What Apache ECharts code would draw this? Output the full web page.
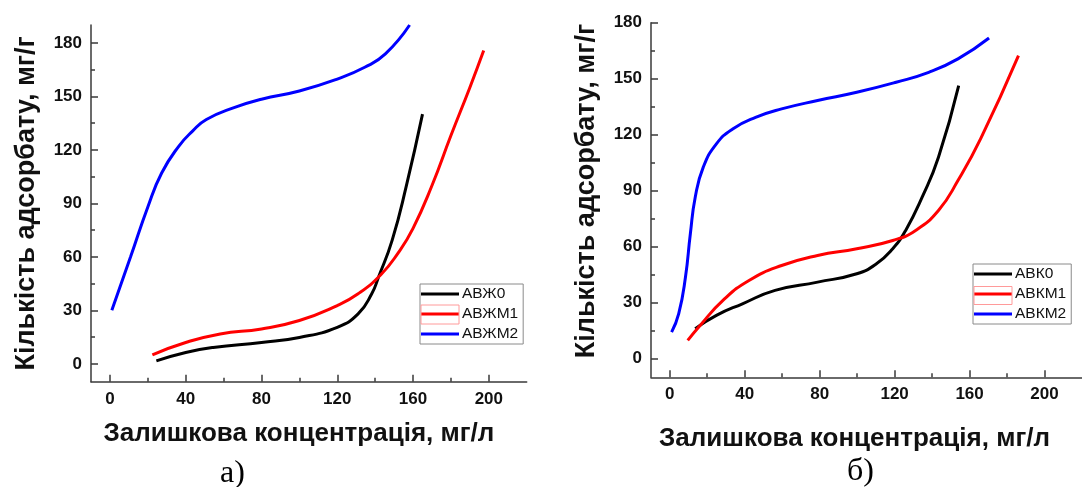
<!DOCTYPE html>
<html>
<head>
<meta charset="utf-8">
<script src="https://cdn.jsdelivr.net/npm/echarts@6/dist/echarts.min.js"></script>
<style>
  html, body { margin: 0; padding: 0; background: #fff; }
  #chart { width: 1082px; height: 487px; }
</style>
</head>
<body>
<div id="chart"></div>
<script>
// Adsorption isotherms: adsorbed amount (mg/g) vs residual concentration (mg/L)

// Panel а) — АВЖ samples, [concentration, amount]
const avzh0 = [[24.5, 1.7], [40, 6.4], [54.5, 9.2], [80, 12], [100, 14.8], [120, 20.5], [131, 28], [138.2, 39.3], [141.8, 48.7], [149, 69.4], [156.4, 99.5], [165, 140]];
const avzhm1 = [[22.4, 5.1], [40, 12], [58.2, 16.8], [80, 19.6], [100, 24.3], [120, 32.7], [131, 39.3], [143, 50], [152, 62], [160, 76], [170, 100], [180, 128], [190, 155], [197.3, 175.7]];
const avzhm2 = [[1, 30], [10.9, 60], [20, 88], [27.3, 107], [36.3, 122], [43.6, 130.5], [50.9, 137], [65.5, 143.7], [80, 148.4], [100, 153], [120, 159.7], [134.5, 166.3], [145.4, 173.8], [158.2, 190]];

// Panel б) — АВК samples
const avk0 = [[13.6, 16.1], [24.9, 23.2], [38.8, 29.4], [56.2, 36.6], [78.9, 41], [99.8, 45.5], [110.3, 50.8], [119, 58.9], [125.9, 68.7], [134.7, 86.5], [143.4, 107.9], [154.2, 146.3]];
const avkm1 = [[9.6, 9.8], [16.2, 17.8], [28.4, 31.2], [42.3, 41.9], [59.7, 49.9], [78.9, 55.3], [99.8, 58.9], [119, 63.3], [131.2, 68.7], [143.4, 79.4], [153.8, 95.4], [166, 118], [186.1, 162.4]];
const avkm2 = [[1, 14.2], [4.8, 24.1], [8.4, 43.7], [11, 66.9], [13.6, 86.5], [17.9, 102.6], [24.9, 115.1], [33.6, 123.1], [45.8, 129.3], [59.7, 133.8], [78.9, 138.3], [99.8, 142.7], [120.8, 148.1], [138.2, 153.4], [153.8, 160.6], [170.4, 171.8]];

// Tick values
const xTicks = [0, 40, 80, 120, 160, 200];
const yTicks = [0, 30, 60, 90, 120, 150, 180];

const namesA = ['АВЖ0', 'АВЖМ1', 'АВЖМ2'];
const namesB = ['АВК0', 'АВКМ1', 'АВКМ2'];
const colors = ['#000000', '#ff0000', '#0000ff'];

const xTitle = 'Залишкова концентрація, мг/л';
const yTitle = 'Кількість адсорбату, мг/г';

const FONT = 'Liberation Sans, Arial, sans-serif';
const AXIS_COLOR = '#3a3a3a';

// ticks point into the plot area (negative length flips them)
function xAxisCfg(gridIndex, nameGap, shiftLeft) {
  return {
    type: 'value', gridIndex, min: -10, max: 220, minInterval: 40, maxInterval: 40,
    name: xTitle, nameLocation: 'middle', nameGap,
    nameTextStyle: { fontFamily: FONT, fontSize: 26, fontWeight: 'bold', color: '#111', padding: [0, shiftLeft * 2, 0, 0] },
    axisLine: { show: true, onZero: false, lineStyle: { color: AXIS_COLOR, width: 1.5 } },
    axisTick: { show: true, inside: false, length: -7, customValues: xTicks, lineStyle: { color: AXIS_COLOR, width: 1.5 } },
    minorTick: { show: true, splitNumber: 2, length: -4, lineStyle: { color: AXIS_COLOR, width: 1.5 } },
    axisLabel: { customValues: xTicks, margin: 9, fontFamily: FONT, fontSize: 17, fontWeight: 'bold', color: '#111' },
    splitLine: { show: false }
  };
}

function yAxisCfg(gridIndex, max, nameGap, shiftUp) {
  return {
    type: 'value', gridIndex, min: -10, max, minInterval: 30, maxInterval: 30,
    name: yTitle, nameLocation: 'middle', nameGap, nameRotate: 90,
    nameTextStyle: { fontFamily: FONT, fontSize: 27, fontWeight: 'bold', color: '#111', padding: [0, 0, 0, shiftUp * 2] },
    axisLine: { show: true, onZero: false, lineStyle: { color: AXIS_COLOR, width: 1.5 } },
    axisTick: { show: true, inside: false, length: -7, customValues: yTicks, lineStyle: { color: AXIS_COLOR, width: 1.5 } },
    minorTick: { show: true, splitNumber: 2, length: -4, lineStyle: { color: AXIS_COLOR, width: 1.5 } },
    axisLabel: { customValues: yTicks, margin: 9, fontFamily: FONT, fontSize: 17, fontWeight: 'bold', color: '#111' },
    splitLine: { show: false }
  };
}

function lineSeries(name, data, color, idx) {
  return {
    name, type: 'line', data, xAxisIndex: idx, yAxisIndex: idx,
    smooth: true, showSymbol: false, symbol: 'none',
    lineStyle: { color, width: 3 }, itemStyle: { color },
    animation: false
  };
}

function legendCfg(names, left, top) {
  return {
    data: names, orient: 'vertical', left, top,
    icon: 'rect', itemWidth: 38, itemHeight: 3, itemGap: 3,
    padding: [1.5, 5, 1.5, 1], borderColor: '#8a8a8a', borderWidth: 1,
    selectedMode: false,
    textStyle: { fontFamily: FONT, fontSize: 15.5, lineHeight: 17, color: '#111', padding: [0, 0, 0, -2] }
  };
}

const chart = echarts.init(document.getElementById('chart'), null, { renderer: 'canvas' });
chart.setOption({
  backgroundColor: '#ffffff',
  animation: false,
  title: [
    { text: 'а)', left: 220, top: 458, padding: 0, textStyle: { fontFamily: 'Liberation Serif, Times New Roman, serif', fontSize: 32, fontWeight: 'normal', color: '#000' } },
    { text: 'б)', left: 847, top: 456, padding: 0, textStyle: { fontFamily: 'Liberation Serif, Times New Roman, serif', fontSize: 32, fontWeight: 'normal', color: '#000' } }
  ],
  grid: [
    { left: 91, top: 25, width: 435.7, height: 356.7 },
    { left: 651, top: 22.7, width: 455.4, height: 354.6 }
  ],
  xAxis: [xAxisCfg(0, 39, 10), xAxisCfg(1, 49, 12)],
  yAxis: [yAxisCfg(0, 190, 51, 0), yAxisCfg(1, 180, 51, 9)],
  legend: [legendCfg(namesA, 420, 284), legendCfg(namesB, 973, 264)],
  graphic: [
    { type: 'rect', shape: { x: 421, y: 305, width: 38, height: 19 }, style: { fill: 'none', stroke: '#ff9a9a', lineWidth: 1 }, z: 100 },
    { type: 'rect', shape: { x: 974, y: 286.5, width: 38, height: 18 }, style: { fill: 'none', stroke: '#ff9a9a', lineWidth: 1 }, z: 100 }
  ],
  series: [
    lineSeries(namesA[0], avzh0, colors[0], 0),
    lineSeries(namesA[1], avzhm1, colors[1], 0),
    lineSeries(namesA[2], avzhm2, colors[2], 0),
    lineSeries(namesB[0], avk0, colors[0], 1),
    lineSeries(namesB[1], avkm1, colors[1], 1),
    lineSeries(namesB[2], avkm2, colors[2], 1)
  ]
});
</script>
</body>
</html>
